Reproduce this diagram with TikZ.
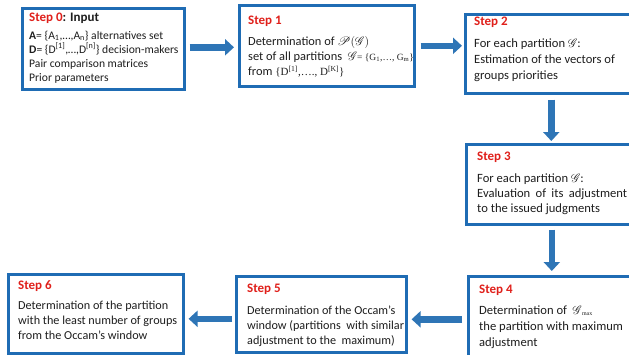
\documentclass[tikz,border=0pt]{standalone}
\usepackage{fontspec}
\setmainfont{Carlito}
\newfontfamily\serifpart{Liberation Serif}
\usepackage{mathrsfs}
\usetikzlibrary{arrows.meta,calc}

\definecolor{boxblue}{HTML}{1F6CB4}
\definecolor{arrowblue}{HTML}{2E75B6}
\definecolor{stepred}{HTML}{E0201B}
\definecolor{bodytext}{HTML}{1E1E1E}

\tikzset{
  stepbox/.style={draw=boxblue, line width=2.6pt, fill=white, inner sep=0pt, anchor=north west},
  % anchored at the baseline of the last line of text
  steptext/.style={anchor=base west, align=left, inner sep=0pt, text=bodytext},
  blockarrow/.style={draw=arrowblue, line width=6.5pt, -{Triangle[length=9pt,width=16pt]}},
}
\newcommand{\steptitle}[1]{{\color{stepred}\bfseries\fontsize{13}{15}\selectfont #1}}
\newcommand{\partG}{$\mathscr{G}$}

\begin{document}
\begin{tikzpicture}[x=1pt,y=-1pt]
  \useasboundingbox (0,0) rectangle (629,354);
  \clip (0,0) rectangle (629,354);
  \fill[white] (0,0) rectangle (629,354);

  % boxes
  \node[stepbox, minimum width=162pt, minimum height=81pt] (s0) at (21,7) {};
  \node[stepbox, minimum width=175pt, minimum height=81pt] (s1) at (238,4) {};
  \node[stepbox, minimum width=185pt, minimum height=79pt] (s2) at (464,13) {};
  \node[stepbox, minimum width=185pt, minimum height=80pt] (s3) at (465,143) {};
  \node[stepbox, minimum width=185pt, minimum height=100pt] (s4) at (467,275) {};
  \node[stepbox, minimum width=170pt, minimum height=76pt] (s5) at (235,275) {};
  \node[stepbox, minimum width=175pt, minimum height=79pt] (s6) at (7,273) {};

  % texts
  \node[steptext, font=\fontsize{11.6}{14}\selectfont] (t0) at ($(s0.north west)+(8,74)$) {%
    {\bfseries\fontsize{13}{15}\selectfont\color{stepred}Step 0\color{bodytext}: Input}\\[4pt]
    \textbf{A}= \{A\textsubscript{1},…,A\textsubscript{n}\} alternatives set\\
    \textbf{D}= \{D\textsuperscript{[1]},…,D\textsuperscript{[n]}\} decision-makers\\
    Pair comparison matrices\\
    Prior parameters};

  \node[steptext, font=\fontsize{12.4}{15}\selectfont] (t1) at ($(s1.north west)+(10,71)$) {%
    \steptitle{Step 1}\\[6pt]
    Determination of $\mathscr{P}(\mathscr{G})$\\
    set of all partitions \ \partG{\serifpart\fontsize{9.5}{15}\selectfont= \{G\textsubscript{1},…, G\textsubscript{m}\}}\\
    from {\serifpart\fontsize{11}{15}\selectfont\{D\textsuperscript{[1]},…., D\textsuperscript{[K]}\}}};

  \node[steptext, font=\fontsize{12.6}{16}\selectfont] (t2) at ($(s2.north west)+(10,66)$) {%
    \steptitle{Step 2}\\[6pt]
    For each partition \partG:\\
    Estimation of the vectors of\\
    groups priorities};

  \node[steptext, font=\fontsize{12.6}{15}\selectfont] (t3) at ($(s3.north west)+(12,69)$) {%
    \steptitle{Step 3}\\[7pt]
    For each partition \partG:\\
    \makebox[150pt][s]{Evaluation of its adjustment}\\
    to the issued judgments};

  \node[steptext, font=\fontsize{12.6}{16}\selectfont] (t4) at ($(s4.north west)+(12,71)$) {%
    \steptitle{Step 4}\\[5pt]
    Determination of \ \partG{\serifpart\fontsize{8.5}{15}\selectfont\textsubscript{max}}\\
    the partition with maximum\\
    adjustment};

  \node[steptext, font=\fontsize{12.2}{15}\selectfont] (t5) at ($(s5.north west)+(12,69)$) {%
    \steptitle{Step 5}\\[7pt]
    Determination of the Occam’s\\
    window (partitions \ with similar\\
    adjustment to the \ maximum)};

  \node[steptext, font=\fontsize{12.2}{15}\selectfont] (t6) at ($(s6.north west)+(11,66)$) {%
    \steptitle{Step 6}\\[5pt]
    Determination of the partition\\
    with the least number of groups\\
    from the Occam’s window};

  % connectors
  \coordinate (a01) at ([yshift=1.5pt]s0.east);
  \draw[blockarrow, shorten <=4pt, shorten >=4pt] (a01) -- (a01 -| s1.west);
  \coordinate (a12) at (s1.east);
  \draw[blockarrow, shorten <=5pt, shorten >=2pt] (a12) -- (a12 -| s2.west);
  \coordinate (a23) at ([xshift=-6.5pt]s2.south);
  \draw[blockarrow, shorten <=5pt, shorten >=2pt] (a23) -- (a23 |- s3.north);
  \coordinate (a34) at ([xshift=-7pt]s3.south);
  \draw[blockarrow, shorten <=4pt, shorten >=4pt] (a34) -- (a34 |- s4.north);
  \coordinate (a45) at ([yshift=-5pt]s5.east);
  \draw[blockarrow, shorten <=5pt, shorten >=4pt] (s4.west |- a45) -- (a45);
  \coordinate (a56) at ([yshift=-5pt]s6.east);
  \draw[blockarrow, shorten <=3pt, shorten >=4pt] (s5.west |- a56) -- (a56);
\end{tikzpicture}
\end{document}
